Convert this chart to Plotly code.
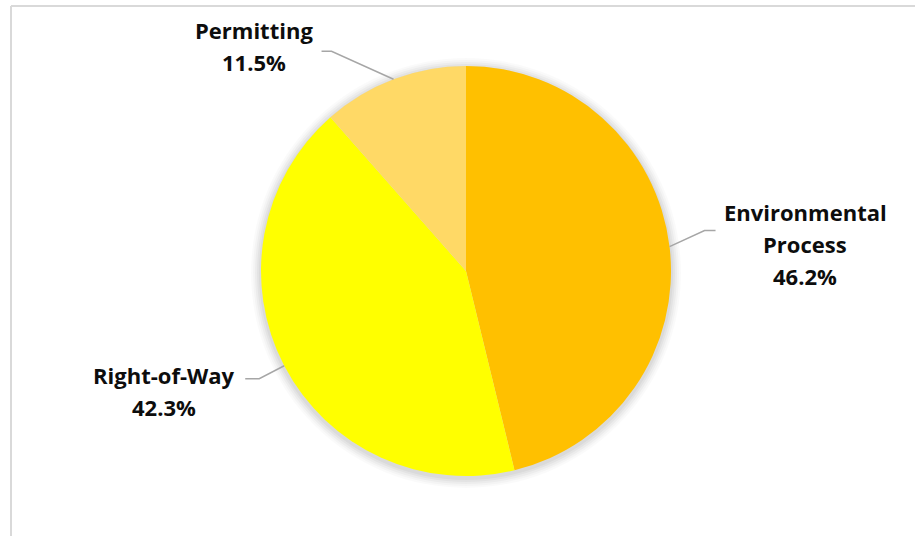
import math
import plotly.graph_objects as go

# Share of delay causes
categories = ["Environmental Process", "Right-of-Way", "Permitting"]
values = [46.2, 42.3, 11.5]
colors = ["#FFC000", "#FFFF00", "#FFD966"]
label_lines = [["Environmental", "Process"], ["Right-of-Way"], ["Permitting"]]

W, H = 915, 536
CX, CY, R = 466, 271, 205  # pie centre and radius in pixels

# label layout: per-line centre positions (px) and leader elbow offsets (px)
label_pos = [
    {"x": 805, "ys": [212, 244, 276], "elbow": (35, -16), "tail": 11},
    {"x": 164, "ys": [375, 407], "elbow": (-25, 13), "tail": -14},
    {"x": 254, "ys": [30, 62], "elbow": (-62, -28), "tail": -10},
]


def px(x):
    return x / W


def py(y):
    return 1 - y / H


fig = go.Figure(
    go.Pie(
        labels=categories,
        values=values,
        sort=False,
        direction="clockwise",
        rotation=0,
        marker=dict(colors=colors, line=dict(width=0)),
        textinfo="none",
        hoverinfo="label+percent",
        showlegend=False,
        domain=dict(x=[px(CX - R), px(CX + R)], y=[py(CY + R), py(CY - R)]),
    )
)

shapes = []

# soft glow behind the pie
for grow, op in [(10, 0.02), (8, 0.025), (6, 0.03), (4, 0.035), (2, 0.04)]:
    rr = R + grow
    shapes.append(dict(
        type="circle", xref="paper", yref="paper", layer="below",
        x0=px(CX - rr), x1=px(CX + rr), y0=py(CY + 2 + rr), y1=py(CY + 2 - rr),
        fillcolor=f"rgba(0,0,0,{op})", line=dict(width=0),
    ))

# chart area border (top and left edges)
shapes.append(dict(type="line", xref="paper", yref="paper",
                   x0=px(11), x1=px(W + 5), y0=py(6), y1=py(6),
                   line=dict(color="#D9D9D9", width=2)))
shapes.append(dict(type="line", xref="paper", yref="paper",
                   x0=px(11), x1=px(11), y0=py(6), y1=py(H + 5),
                   line=dict(color="#D9D9D9", width=2)))

annotations = []
total = sum(values)
cum = 0.0
for name_lines, v, pos in zip(label_lines, values, label_pos):
    mid = (cum + v / 2) / total * 2 * math.pi
    cum += v
    ex = CX + R * math.sin(mid)
    ey = CY - R * math.cos(mid)
    bx = ex + pos["elbow"][0]
    by = ey + pos["elbow"][1]
    tx = bx + pos["tail"]
    shapes.append(dict(
        type="path", xref="paper", yref="paper",
        path=f"M {px(ex)},{py(ey)} L {px(bx)},{py(by)} L {px(tx)},{py(by)}",
        line=dict(color="#A6A6A6", width=1.5),
    ))
    texts = name_lines + [f"{v:.1f}%"]
    for t, yy in zip(texts, pos["ys"]):
        annotations.append(dict(
            text=t, x=px(pos["x"]), y=py(yy), xref="paper", yref="paper",
            xanchor="center", yanchor="middle", showarrow=False,
            font=dict(family="Open Sans", size=22, color="#0D0D0D", weight=700),
        ))

fig.update_layout(
    width=W, height=H,
    margin=dict(l=0, r=0, t=0, b=0),
    paper_bgcolor="white",
    plot_bgcolor="white",
    shapes=shapes,
    annotations=annotations,
)

fig.write_html("out.html")
